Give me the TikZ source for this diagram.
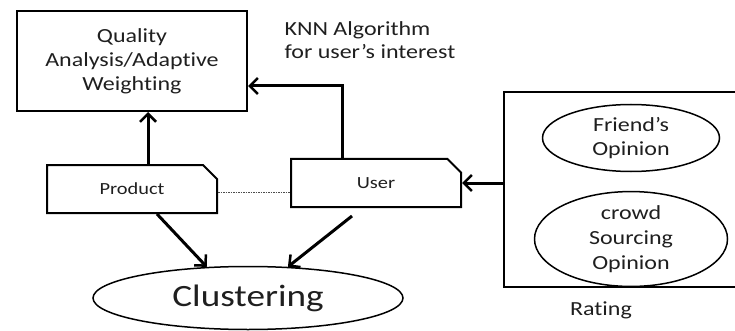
\documentclass[tikz,border=0pt]{standalone}
\usepackage{fontspec}
\setmainfont{Carlito}[FakeStretch=1.2, Ligatures=NoCommon]
\usetikzlibrary{arrows.meta,shapes.geometric,shapes.misc}
\begin{document}
\begin{tikzpicture}[x=1pt,y=-1pt,
  every node/.style={text=black!88, font=\fontsize{20}{24}\selectfont, align=center},
  box/.style={draw, line width=2pt, rectangle, inner sep=0pt},
  tab/.style={draw, line width=2pt, chamfered rectangle, chamfered rectangle corners=north east,
    chamfered rectangle xsep=8pt, chamfered rectangle ysep=8pt,
    minimum width=170pt, minimum height=48pt, inner sep=0pt, font=\fontsize{17}{20}\selectfont},
  oval/.style={draw, line width=1.5pt, ellipse, inner sep=0pt},
  arr/.style={line width=3pt, -{Straight Barb[length=8pt,width=16pt,line width=2.5pt]}},
  lbl/.style={align=left, font=\fontsize{20}{23}\selectfont}]
\useasboundingbox (0,0) rectangle (735,331);

% top box
\node[box, minimum width=230pt, minimum height=100pt] (quality) at (132,61)
  {Quality\\Analysis/Adaptive\\Weighting};
\node[lbl, anchor=north west] (knn) at (281,18) {KNN Algorithm\\for user’s interest};

% product and user tabs
\node[tab] (product) at (132,189) {\raisebox{-3pt}{Product}};
\node[tab] (user) at (376,183) {User};

% rating panel (runs past the right edge)
\node[box, minimum width=236pt, minimum height=195pt] (rating) at (622,189.5) {};
\node[oval, minimum width=177pt, minimum height=67pt] (friend) at (631,138)
  {Friend’s\\Opinion};
\node[oval, minimum width=193pt, minimum height=82pt, font=\fontsize{20}{25}\selectfont]
  (crowd) at (631,239) {crowd\\Sourcing\\Opinion};
\node (ratinglbl) at (601,310) {Rating};

% clustering
\node[oval, minimum width=310pt, minimum height=63pt, font=\fontsize{31}{36}\selectfont]
  (clust) at (248,298) {Clustering};

% connectors
\draw[arr] ([xshift=16pt]product.north) -- ([xshift=16pt]product.north |- quality.south);
\draw[arr] ([xshift=-34pt]user.north) |- ([yshift=-25pt]quality.east);
\draw[arr] (rating.west |- user.east) -- (user.east);
\draw[black!70, line width=1pt, dash pattern=on 1.5pt off 1pt]
  ([yshift=-3pt]product.east) -- ([yshift=-3pt]product.east -| user.west);
\draw[arr] ([xshift=25pt]product.south) -- (clust.143);
\draw[arr] ([xshift=-24pt,yshift=-8pt]user.south) -- (clust.38);
\end{tikzpicture}
\end{document}
